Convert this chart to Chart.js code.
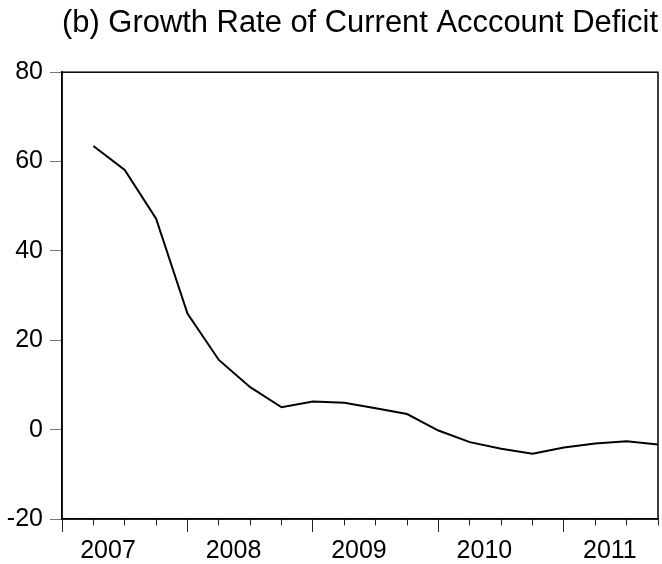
<!DOCTYPE html>
<html>
<head>
<meta charset="utf-8">
<script src="https://cdn.jsdelivr.net/npm/chart.js@4/dist/chart.umd.min.js"></script>
<style>
  html, body { margin: 0; padding: 0; background: #fff; }
  #wrap { width: 662px; height: 564px; }
</style>
</head>
<body>
<div id="wrap"><canvas id="deficitChart"></canvas></div>
<script>
// Quarterly observations, 2007Q1 - 2011Q4 (first quarter has no growth rate)
const quarters = [
  "2007Q1", "2007Q2", "2007Q3", "2007Q4",
  "2008Q1", "2008Q2", "2008Q3", "2008Q4",
  "2009Q1", "2009Q2", "2009Q3", "2009Q4",
  "2010Q1", "2010Q2", "2010Q3", "2010Q4",
  "2011Q1", "2011Q2", "2011Q3", "2011Q4",
];
const years = ["2007", "2008", "2009", "2010", "2011"];
const growthRate = [
  null, 63.5, 58.1, 47.2,
  26.0, 15.6, 9.5, 5.0,
  6.3, 6.0, 4.8, 3.5,
  -0.2, -2.8, -4.3, -5.4,
  -4.0, -3.1, -2.6, -3.3,
];
const yTicks = [-20, 0, 20, 40, 60, 80];

const FONT = "'Liberation Sans', Arial, Helvetica, sans-serif";

// box around the plot area (top and right sides are not drawn by the axes)
const frame = {
  id: "frame",
  afterDraw(chart) {
    const { ctx, chartArea } = chart;
    ctx.save();
    ctx.strokeStyle = "#000";
    ctx.lineWidth = 1.5;
    ctx.strokeRect(chartArea.left, chartArea.top, chartArea.right - chartArea.left, chartArea.bottom - chartArea.top);
    ctx.restore();
  },
};

const ctx = document.getElementById("deficitChart").getContext("2d");
window.deficitChartInstance = new Chart(ctx, {
  type: "line",
  data: {
    labels: quarters,
    datasets: [
      {
        label: "Growth Rate",
        data: growthRate,
        borderColor: "#000",
        borderWidth: 2,
        pointRadius: 0,
        tension: 0,
        fill: false,
      },
    ],
  },
  plugins: [frame],
  options: {
    responsive: true,
    maintainAspectRatio: false,
    animation: false,
    layout: { padding: { left: 0, right: 4, top: 0, bottom: 0 } },
    plugins: {
      legend: { display: false },
      tooltip: { enabled: false },
      title: {
        display: true,
        fullSize: false,
        text: "(b) Growth Rate of Current Acccount Deficit",
        color: "#000",
        font: { family: FONT, size: 31, weight: "normal" },
        padding: { top: 5, bottom: 30 },
      },
    },
    scales: {
      x: {
        offset: false,
        border: { display: true, color: "#000", width: 1.5 },
        grid: {
          drawOnChartArea: false,
          tickLength: 13,
          tickColor: "#222",
          tickWidth: 1,
          // short marks for quarters, full length at the start of each year
          tickBorderDash: (c) => (c.index % 4 === 0 ? [] : [6, 30]),
        },
        ticks: {
          autoSkip: false,
          maxRotation: 0,
          labelOffset: 46,
          padding: 4,
          color: "#000",
          font: { family: FONT, size: 25 },
          callback: (value, index) => (index % 4 === 0 ? years[index / 4] : ""),
        },
        afterFit: (scale) => {
          scale.height = 45;
        },
      },
      y: {
        min: -20,
        max: 80,
        border: { display: true, color: "#000", width: 1.5 },
        grid: {
          drawOnChartArea: false,
          tickLength: 12,
          tickColor: "#777",
        },
        afterBuildTicks: (scale) => {
          scale.ticks = yTicks.map((v) => ({ value: v }));
        },
        ticks: {
          padding: 7,
          color: "#000",
          font: { family: FONT, size: 25 },
        },
        afterFit: (scale) => {
          scale.width = 62;
        },
      },
    },
  },
});
</script>
</body>
</html>
